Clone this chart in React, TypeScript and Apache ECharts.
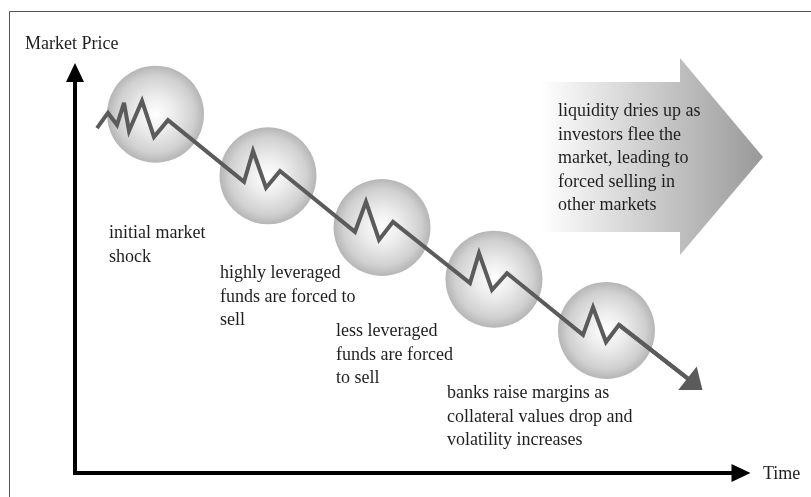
import React, { useEffect, useRef } from "react";
import * as echarts from "echarts";

// Circles (episodes) in axis units: time 0..100, price 0..100
const circleTime = [12.09, 28.98, 46.1, 62.91, 79.8];
const circlePrice = [89.6, 74.2, 61.3, 48.4, 35.6];

// Price path
const pathTime = [3.3, 4.95, 6.31, 7.36, 8.11, 10.06, 11.86, 13.96, 25.38, 26.73, 28.68, 30.78, 42.04, 43.69, 45.65, 47.75, 59.31, 60.66, 62.61, 64.86, 76.28, 77.78, 79.73, 81.68, 93.09];
const pathPrice = [86.1, 89.9, 86.9, 92.4, 85.4, 92.9, 83.9, 88.1, 72.7, 80.4, 71.2, 75.4, 60.2, 67.7, 58.2, 62.7, 47.4, 54.9, 45.7, 49.9, 34.5, 41.4, 32.7, 37.0, 22.2];

const yAxisTitle = "Market Price";
const xAxisTitle = "Time";
const stageLabels = [
  ["initial market", "shock"],
  ["highly leveraged", "funds are forced to", "sell"],
  ["less leveraged", "funds are forced", "to sell"],
  ["banks raise margins as", "collateral values drop and", "volatility increases"],
];
const arrowLabel = ["liquidity dries up as", "investors flee the", "market, leading to", "forced selling in", "other markets"];

const FONT_FAMILY = '"Liberation Serif", "Times New Roman", serif';
const FONT_SIZE = 18;
const LINE_H = 23.5;
const TEXT_COLOR = "#1e1e1e";
// wide, flat arrowhead (30 wide, 19 long) inside a 30x30 box
const ARROW_HEAD = "path://M0,0 M30,30 M15,5.5 L30,24.5 L0,24.5 Z";

export default function App() {
  const ref = useRef<HTMLDivElement>(null);
  useEffect(() => {
    if (!ref.current) return;
    const chart = echarts.init(ref.current, null, { renderer: "svg" });

    const blockText = (lines: string[], x: number, yCenterFirst: number) => ({
      type: "text",
      x,
      y: yCenterFirst - LINE_H / 2,
      z: 20,
      style: {
        text: lines.join("\n"),
        fill: TEXT_COLOR,
        font: `${FONT_SIZE}px ${FONT_FAMILY}`,
        lineHeight: LINE_H,
        verticalAlign: "top",
        align: "left",
      },
    });

    const stagePos = [
      [109, 232],
      [220, 272],
      [336, 330],
      [447, 392],
    ];

    const path = pathTime.map((t, i) => [t, pathPrice[i]]);
    const n = path.length;

    chart.setOption({
      animation: false,
      grid: { left: 75, right: 70, top: 72.5, bottom: 24 },
      xAxis: {
        type: "value",
        min: 0,
        max: 100,
        axisLine: {
          show: true,
          onZero: false,
          lineStyle: { color: "#000", width: 4, cap: "square" },
          symbol: ["none", "triangle"],
          symbolSize: [18, 19],
        },
        axisTick: { show: false },
        axisLabel: { show: false },
        splitLine: { show: false },
      },
      yAxis: {
        type: "value",
        min: 0,
        max: 100,
        axisLine: {
          show: true,
          onZero: false,
          lineStyle: { color: "#000", width: 4, cap: "square" },
          symbol: ["none", "triangle"],
          symbolSize: [18, 19],
        },
        axisTick: { show: false },
        axisLabel: { show: false },
        splitLine: { show: false },
      },
      graphic: [
        {
          type: "rect",
          z: 0,
          shape: { x: 9.5, y: 11.5, width: 900, height: 600 },
          style: { fill: "none", stroke: "#555", lineWidth: 1 },
        },
        {
          type: "polygon",
          z: 1,
          shape: {
            points: [
              [540, 82],
              [680, 82],
              [680, 58],
              [763, 157],
              [680, 255],
              [680, 232],
              [540, 232],
            ],
          },
          style: {
            fill: new echarts.graphic.LinearGradient(0, 0, 1, 0, [
              { offset: 0, color: "#ffffff" },
              { offset: 1, color: "#999999" },
            ]),
          },
        },
        blockText([yAxisTitle], 25, 43),
        blockText([xAxisTitle], 763, 473),
        ...stageLabels.map((lines, i) => blockText(lines, stagePos[i][0], stagePos[i][1])),
        blockText(arrowLabel, 558, 110),
      ],
      series: [
        {
          type: "scatter",
          z: 2,
          symbol: "circle",
          symbolSize: 97,
          silent: true,
          data: circleTime.map((t, i) => [t, circlePrice[i]]),
          itemStyle: {
            color: {
              type: "radial",
              x: 0.5,
              y: 0.5,
              r: 0.5,
              colorStops: [
                { offset: 0, color: "#ffffff" },
                { offset: 0.4, color: "#e6e6e6" },
                { offset: 0.8, color: "#c4c4c4" },
                { offset: 1, color: "#a3a3a3" },
              ],
            },
          },
        },
        {
          type: "line",
          z: 3,
          showSymbol: false,
          symbol: "none",
          data: path,
          lineStyle: { color: "#5b5b5b", width: 4, join: "miter", cap: "butt" },
        },
        {
          type: "lines",
          coordinateSystem: "cartesian2d",
          z: 3,
          polyline: false,
          symbol: ["none", ARROW_HEAD],
          symbolSize: 30,
          data: [{ coords: [path[n - 2], path[n - 1]] }],
          lineStyle: { color: "#5b5b5b", width: 4, opacity: 1 },
        },
      ],
    });
    return () => chart.dispose();
  }, []);
  return (
    <div
      ref={ref}
      style={{ position: "fixed", left: 0, top: 0, width: 811, height: 497 }}
    />
  );
}
